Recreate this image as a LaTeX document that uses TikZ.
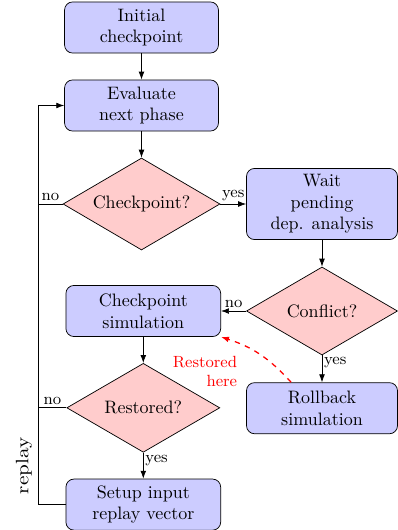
\documentclass[tikz,border=0pt]{standalone}
\usetikzlibrary{shapes.geometric,arrows.meta}
\begin{document}
\begin{tikzpicture}[x=0.5556pt,y=0.5556pt,
  proc/.style={rectangle, rounded corners=4.5pt, draw=black, fill=blue!20,
    align=center, minimum width=85.5pt, minimum height=28.4pt, inner sep=3.33pt},
  decide/.style={diamond, draw=black, fill=red!20, inner sep=0pt, aspect=2},
  flow/.style={-{Latex[length=4.4pt,width=3.2pt]}},
  lbl/.style={font=\small, inner sep=1.5pt},
  vlbl/.style={font=\small, inner sep=1pt, pos=0, below right},
  ]
\useasboundingbox (0,0) rectangle (398,-530);

% process steps and decisions
\node[proc] (init) at (141.5,-27.5) {Initial\\checkpoint};
\node[proc] (eval) at (141.5,-105.5) {Evaluate\\next phase};
\node[decide, minimum width=87.2pt, minimum height=51.1pt] (chk) at (141.5,-204) {Checkpoint?};
\node[proc, minimum width=83.9pt] (wait) at (322,-204) {Wait\\pending\\dep. analysis};
\node[decide, minimum width=83.9pt, minimum height=48.9pt] (conf) at (322,-311) {Conflict?};
\node[proc, minimum width=86pt] (cps) at (143.3,-311) {Checkpoint\\simulation};
\node[decide, minimum width=85pt, minimum height=49.4pt] (rest) at (143.3,-407.8) {Restored?};
\node[proc, minimum width=83.9pt] (roll) at (322,-408.2) {Rollback\\simulation};
\node[proc, minimum width=86pt] (setup) at (143.3,-504.6) {Setup input\\replay vector};

% x position of the replay loop on the left
\coordinate (lx) at (38.3,-105.5);

% main flow
\draw[flow] (init) -- (eval);
\draw[flow] (eval) -- (chk);
\draw[flow] (chk) -- node[lbl, above] {yes} (wait);
\draw[flow] (wait) -- (conf);
\draw[flow] (conf) -- node[lbl, above] {no} (cps);
\draw[flow] (conf) -- node[vlbl] {yes} (roll);
\draw[flow] (cps) -- (rest);
\draw[flow] (rest) -- node[vlbl] {yes} (setup);

% "no" branches joining the replay loop
\draw (chk.west) -- node[lbl, above] {no} (chk.west -| lx);
\draw (rest.west) -- node[lbl, above] {no} (rest.west -| lx);

% replay loop back to the evaluation step
\draw[flow] (setup.west) -- (setup.west -| lx)
  -- node[pos=0.097, above, rotate=90] {\scalebox{1.18}[1]{replay}} (lx)
  -- (eval.west);

% restore after rollback
\draw[flow, red, dashed, line width=0.7pt] (roll.140) to[bend right=15] (cps.south east);
\node[font=\small, text=red, align=right, anchor=east, inner sep=0pt] (rhere)
  at (237.5,-371.4) {Restored\\here};
\end{tikzpicture}
\end{document}
